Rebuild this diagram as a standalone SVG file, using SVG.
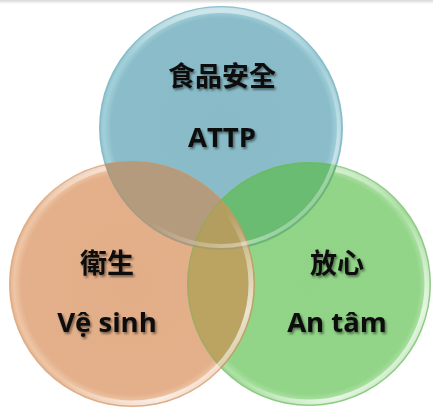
<svg xmlns="http://www.w3.org/2000/svg" width="433" height="409" viewBox="0 0 433 409">
<style>
.t{font-family:"Open Sans","Noto Sans CJK TC",sans-serif;font-weight:700;font-size:27.5px;fill:#0d0d0d;text-anchor:middle;filter:url(#sh)}
.cjk{font-family:"Noto Sans CJK TC","Noto Sans CJK SC",sans-serif;font-size:27px}
</style>
<defs>
<linearGradient id="topband" x1="0" y1="0" x2="0" y2="1">
<stop offset="0" stop-color="#d8d8d8"/><stop offset="1" stop-color="#ffffff"/>
</linearGradient>
<radialGradient id="gB" cx="0.5" cy="0.5" r="0.5">
<stop offset="0" stop-color="#88bbc7"/><stop offset="0.9" stop-color="#8abdc9"/><stop offset="0.96" stop-color="#a2d0da"/><stop offset="1" stop-color="#8cc3d0"/>
</radialGradient>
<radialGradient id="gO" cx="0.5" cy="0.5" r="0.5">
<stop offset="0" stop-color="#e2ae88"/><stop offset="0.9" stop-color="#e3b08b"/><stop offset="0.96" stop-color="#efc6a6"/><stop offset="1" stop-color="#e2b08c"/>
</radialGradient>
<radialGradient id="gG" cx="0.5" cy="0.5" r="0.5">
<stop offset="0" stop-color="#91d387"/><stop offset="0.9" stop-color="#92d488"/><stop offset="0.96" stop-color="#aee2a6"/><stop offset="1" stop-color="#93d189"/>
</radialGradient>
<linearGradient id="hl" x1="0" y1="0" x2="1" y2="1">
<stop offset="0" stop-color="#fff" stop-opacity="0"/><stop offset="0.55" stop-color="#fff" stop-opacity="0"/><stop offset="0.8" stop-color="#fff" stop-opacity="0.7"/><stop offset="1" stop-color="#fff" stop-opacity="0"/>
</linearGradient>
<linearGradient id="hlTop" x1="0" y1="0" x2="0" y2="1">
<stop offset="0" stop-color="#fff" stop-opacity="0.5"/><stop offset="0.2" stop-color="#fff" stop-opacity="0"/>
</linearGradient>
<clipPath id="cB"><circle cx="221" cy="128" r="122"/></clipPath>
<clipPath id="cO"><circle cx="132" cy="284" r="123"/></clipPath>
<clipPath id="cG"><circle cx="309" cy="284" r="122"/></clipPath>
<filter id="sh" x="-20%" y="-30%" width="140%" height="160%">
<feDropShadow dx="1.5" dy="2" stdDeviation="1.3" flood-color="#000" flood-opacity="0.45"/>
</filter>
</defs>
<rect width="433" height="409" fill="#fff"/>
<rect width="433" height="4" fill="url(#topband)"/>
<g id="circle-attp">
<circle cx="221" cy="128" r="122" fill="url(#gB)"/>
<circle cx="221" cy="128" r="118" fill="none" stroke="url(#hlTop)" stroke-width="6"/>
</g>
<g id="circle-vesinh">
<circle cx="132" cy="284" r="123" fill="url(#gO)"/>
<circle cx="132" cy="284" r="119" fill="none" stroke="url(#hlTop)" stroke-width="6"/>
</g>
<g id="circle-antam">
<circle cx="309" cy="284" r="122" fill="url(#gG)"/>
<circle cx="309" cy="284" r="118" fill="none" stroke="url(#hlTop)" stroke-width="6"/>
</g>
<g id="overlaps">
<g clip-path="url(#cB)"><circle cx="132" cy="284" r="123" fill="#b49b7d"/></g>
<g clip-path="url(#cB)"><circle cx="309" cy="284" r="122" fill="#69bc71"/></g>
<g clip-path="url(#cO)"><circle cx="309" cy="284" r="122" fill="#bba462"/></g>
<g clip-path="url(#cB)"><g clip-path="url(#cO)"><circle cx="309" cy="284" r="122" fill="#b39e5f"/></g></g>
<circle cx="221" cy="128" r="121" fill="none" stroke="#6f9aa3" stroke-opacity="0.25" stroke-width="1.2"/>
<circle cx="132" cy="284" r="122" fill="none" stroke="#c99a70" stroke-opacity="0.3" stroke-width="1.2"/>
<circle cx="309" cy="284" r="121" fill="none" stroke="#6fae66" stroke-opacity="0.3" stroke-width="1.2"/>
<circle cx="132" cy="284" r="119" fill="none" stroke="url(#hl)" stroke-width="5"/>
<circle cx="309" cy="284" r="118" fill="none" stroke="url(#hl)" stroke-width="5"/>
<circle cx="221" cy="128" r="118" fill="none" stroke="url(#hl)" stroke-width="4" stroke-opacity="0.6"/>
</g>
<g id="label-attp">
<text class="t cjk" x="222" y="86">食品安全</text>
<text class="t" x="222" y="147">ATTP</text>
</g>
<g id="label-vesinh">
<text class="t cjk" x="107" y="273">衛生</text>
<text class="t" x="107" y="332">Vệ sinh</text>
</g>
<g id="label-antam">
<text class="t cjk" x="337" y="273">放心</text>
<text class="t" x="337" y="332">An tâm</text>
</g>
</svg>
